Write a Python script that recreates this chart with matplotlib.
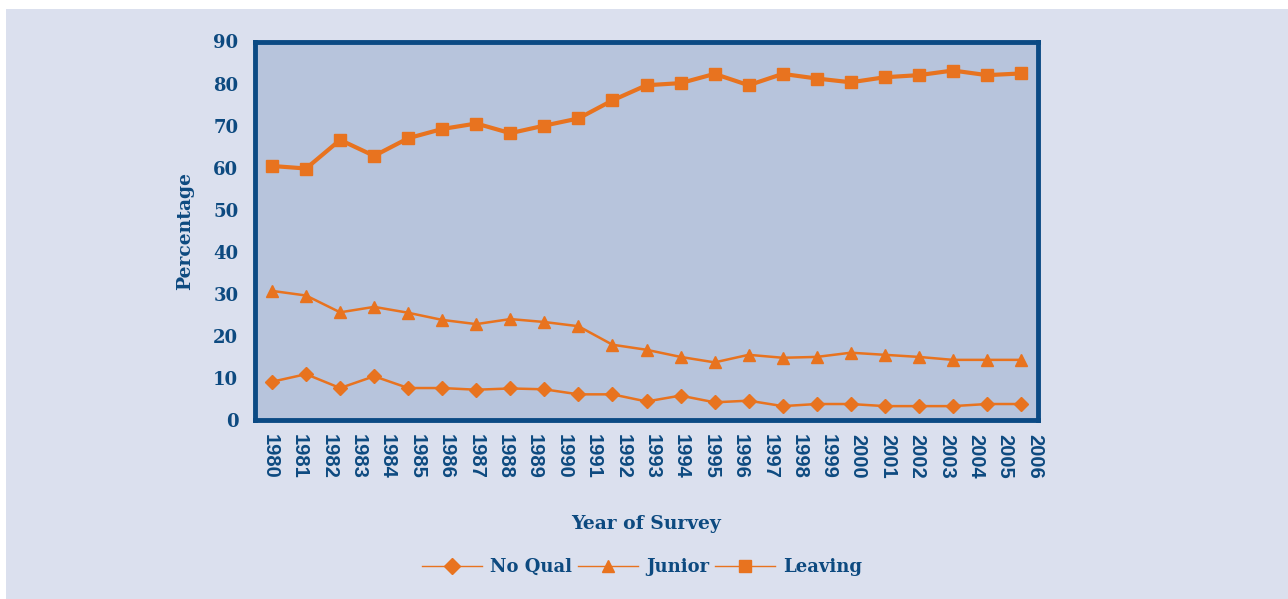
import matplotlib
matplotlib.use("Agg")
import matplotlib.pyplot as plt
import numpy as np
from matplotlib.patches import Rectangle
from matplotlib.lines import Line2D

# ---- data ----
year_labels = [str(y) for y in range(1980, 2007)]
no_qual = [9.1, 10.9, 7.6, 10.4, 7.6, 7.6, 7.2, 7.5, 7.3, 6.1, 6.1, 4.4,
           5.8, 4.2, 4.6, 3.3, 3.8, 3.8, 3.3, 3.3, 3.3, 3.8, 3.8]
junior = [30.7, 29.6, 25.6, 26.9, 25.5, 23.8, 22.8, 24.0, 23.3, 22.3, 17.9, 16.7,
          15.0, 13.7, 15.5, 14.8, 15.0, 16.0, 15.5, 15.0, 14.3, 14.3, 14.3]
leaving = [60.4, 59.8, 66.6, 62.8, 67.0, 69.2, 70.5, 68.2, 70.0, 71.7, 76.0, 79.6,
           80.1, 82.3, 79.6, 82.3, 81.2, 80.3, 81.5, 82.0, 83.1, 82.0, 82.4]
series_names = ["No Qual", "Junior", "Leaving"]
y_ticks = list(range(0, 91, 10))

# ---- style ----
BG = "#dbe0ee"
PLOT_BG = "#b7c4dc"
BORDER = "#0b4a84"
ORANGE = "#e8731f"
TEXT = "#0d4a80"
SERIF = ["DejaVu Serif"]
SANS = ["Liberation Sans", "DejaVu Sans"]

fig = plt.figure(figsize=(12.88, 5.99), dpi=100, facecolor="white")
bg = Rectangle((6 / 1288, 0), 1 - 6 / 1288, 1 - 9 / 599,
               transform=fig.transFigure, facecolor=BG, edgecolor="none", zorder=-10)
fig.patches.append(bg)

ax = fig.add_axes([255 / 1288, 1 - 420 / 599, (1038 - 255) / 1288, (420 - 41.5) / 599])
ax.set_zorder(5)
ax.set_facecolor(PLOT_BG)
for s in ax.spines.values():
    s.set_color(BORDER)
    s.set_linewidth(3.5)

x = np.arange(len(leaving))
ax.plot(x, no_qual, color=ORANGE, lw=1.8, marker="D", ms=7.5, mec=ORANGE, label=series_names[0])
ax.plot(x, junior, color=ORANGE, lw=1.8, marker="^", ms=9, mec=ORANGE, label=series_names[1])
ax.plot(x, leaving, color=ORANGE, lw=3.0, marker="s", ms=8, mec=ORANGE, label=series_names[2])

ax.set_xlim(-0.5, len(leaving) - 0.5)
ax.set_ylim(0, 90)
ax.set_yticks(y_ticks)
ax.set_yticklabels([str(v) for v in y_ticks], fontfamily=SERIF, fontweight="bold",
                   fontsize=13, color=TEXT)
ax.tick_params(axis="y", length=0, pad=12)

# year labels spread evenly along the axis
xpos = np.linspace(-0.06, 22.4, len(year_labels))
ax.set_xticks(xpos)
ax.set_xticklabels(year_labels, rotation=270, fontfamily=SANS, fontweight="bold",
                   fontsize=14.5, color=TEXT)
ax.tick_params(axis="x", length=0, pad=10)

ax.set_ylabel("Percentage", fontfamily=SERIF, fontweight="bold", fontsize=13.5,
              color=TEXT, labelpad=14)
ax.set_xlabel("Year of Survey", fontfamily=SERIF, fontweight="bold", fontsize=13.5,
              color=TEXT, labelpad=26)

handles = [
    Line2D([], [], color=ORANGE, lw=1.0, marker="D", ms=8, mec=ORANGE),
    Line2D([], [], color=ORANGE, lw=1.0, marker="^", ms=9, mec=ORANGE),
    Line2D([], [], color=ORANGE, lw=1.0, marker="s", ms=8, mec=ORANGE),
]
leg = fig.legend(handles, series_names, loc="center", bbox_to_anchor=(642 / 1288, 1 - 567 / 599),
                 ncol=3, frameon=False, handlelength=3.3, handletextpad=0.45,
                 columnspacing=0.35,
                 prop={"family": SERIF, "weight": "bold", "size": 13})
for t in leg.get_texts():
    t.set_color(TEXT)

fig.savefig("out.png", dpi=100, facecolor=fig.get_facecolor())
